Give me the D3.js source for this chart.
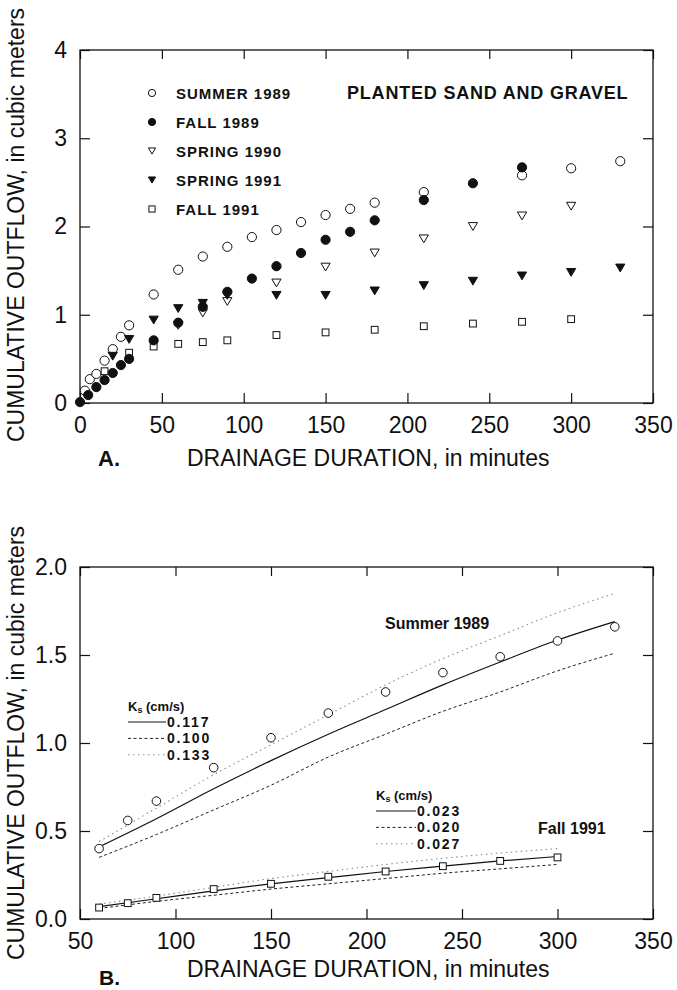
<!DOCTYPE html>
<html>
<head>
<meta charset="utf-8">
<script src="https://cdn.jsdelivr.net/npm/d3@7"></script>
<style>
  body { margin: 0; background: #fff; }
  text { font-family: "Liberation Sans", Arial, Helvetica, sans-serif; fill: #111; }
</style>
</head>
<body>
<div id="chart"></div>
<script>
// ---- panel A data (minutes, cubic meters) ----
const summer1989X = [3, 6, 10, 15, 20, 25, 30, 45, 60, 75, 90, 105, 120, 135, 150, 165, 180, 210, 270, 300, 330];
const summer1989Y = [0.14, 0.27, 0.33, 0.48, 0.61, 0.75, 0.88, 1.23, 1.51, 1.66, 1.77, 1.88, 1.96, 2.05, 2.13, 2.20, 2.27, 2.39, 2.58, 2.66, 2.74];
const fall1989X = [0, 5, 10, 15, 20, 25, 30, 45, 60, 75, 90, 105, 120, 135, 150, 165, 180, 210, 240, 270];
const fall1989Y = [0.01, 0.09, 0.18, 0.26, 0.34, 0.43, 0.50, 0.71, 0.91, 1.09, 1.26, 1.41, 1.55, 1.70, 1.85, 1.94, 2.07, 2.30, 2.49, 2.67];
const spring1990X = [60, 75, 90, 120, 150, 180, 210, 240, 270, 300];
const spring1990Y = [0.88, 1.02, 1.15, 1.36, 1.54, 1.70, 1.86, 2.00, 2.12, 2.23];
const spring1991X = [20, 30, 45, 60, 75, 90, 120, 150, 180, 210, 240, 270, 300, 330];
const spring1991Y = [0.53, 0.72, 0.94, 1.07, 1.13, 1.22, 1.22, 1.22, 1.27, 1.33, 1.38, 1.44, 1.48, 1.53];
const fall1991X = [15, 30, 45, 60, 75, 90, 120, 150, 180, 210, 240, 270, 300];
const fall1991Y = [0.36, 0.57, 0.64, 0.67, 0.69, 0.71, 0.77, 0.80, 0.83, 0.87, 0.90, 0.92, 0.95];

const seriesNamesA = ["SUMMER 1989", "FALL 1989", "SPRING 1990", "SPRING 1991", "FALL 1991"];
const seriesShapesA = ["circleOpen", "circleFilled", "triOpen", "triFilled", "squareOpen"];

// ---- panel B data ----
const obsSummerX = [60, 75, 90, 120, 150, 180, 210, 240, 270, 300, 330];
const obsSummerY = [0.40, 0.56, 0.67, 0.86, 1.03, 1.17, 1.29, 1.40, 1.49, 1.58, 1.66];
const obsFallX = [60, 75, 90, 120, 150, 180, 210, 240, 270, 300];
const obsFallY = [0.065, 0.09, 0.12, 0.17, 0.20, 0.24, 0.27, 0.30, 0.33, 0.35];

const modelSummerX = [60, 90, 120, 150, 180, 210, 240, 270, 300, 330];
const summerK117 = [0.41, 0.57, 0.74, 0.90, 1.05, 1.19, 1.33, 1.46, 1.585, 1.69];
const summerK100 = [0.35, 0.48, 0.62, 0.76, 0.92, 1.05, 1.18, 1.29, 1.41, 1.51];
const summerK133 = [0.44, 0.63, 0.82, 0.99, 1.16, 1.33, 1.48, 1.61, 1.74, 1.85];
const modelFallX = [60, 90, 120, 150, 180, 210, 240, 270, 300];
const fallK023 = [0.07, 0.115, 0.16, 0.20, 0.235, 0.27, 0.30, 0.33, 0.355];
const fallK020 = [0.06, 0.10, 0.135, 0.17, 0.20, 0.23, 0.26, 0.285, 0.31];
const fallK027 = [0.085, 0.13, 0.18, 0.23, 0.27, 0.31, 0.345, 0.375, 0.40];

const ksSummerLabels = ["0.117", "0.100", "0.133"];
const ksFallLabels = ["0.023", "0.020", "0.027"];
const lineStyles = ["solid", "dashed", "dotted"];

const ticksAX = [0, 50, 100, 150, 200, 250, 300, 350];
const ticksAY = [0, 1, 2, 3, 4];
const ticksBX = [50, 100, 150, 200, 250, 300, 350];
const ticksBY = [0, 0.5, 1.0, 1.5, 2.0];

const width = 677, height = 990;

const svg = d3.select("#chart")
  .append("svg")
    .attr("width", width)
    .attr("height", height)
    .style("background-color", "#fff");

// scales
const xA = d3.scaleLinear().domain([0, 350]).range([80, 653]);
const yA = d3.scaleLinear().domain([0, 4]).range([403, 50]);
const xB = d3.scaleLinear().domain([50, 350]).range([80, 653]);
const yB = d3.scaleLinear().domain([0, 2]).range([919, 567]);

// draws a framed panel with inward ticks on all four sides
function drawFrame(x, y, xt, yt, yfmt) {
  const [x0, x1] = x.range();
  const [y0, y1] = y.range();
  const g = svg.append("g");

  g.append("g")
    .attr("transform", `translate(0,${y0})`)
    .call(d3.axisBottom(x).tickValues(xt).tickSizeInner(-10).tickSizeOuter(0).tickPadding(14))
    .selectAll("text")
      .style("font-size", "23px");

  g.append("g")
    .attr("transform", `translate(0,${y1})`)
    .call(d3.axisTop(x).tickValues(xt).tickSizeInner(-9).tickSizeOuter(0).tickFormat(""));

  g.append("g")
    .attr("transform", `translate(${x0},0)`)
    .call(d3.axisLeft(y).tickValues(yt).tickSizeInner(-10).tickSizeOuter(0).tickPadding(13).tickFormat(yfmt))
    .selectAll("text")
      .style("font-size", "23px");

  g.append("g")
    .attr("transform", `translate(${x1},0)`)
    .call(d3.axisRight(y).tickValues(yt).tickSizeInner(-10).tickSizeOuter(0).tickFormat(""));

  g.selectAll(".domain").remove();
  g.selectAll(".tick line").attr("stroke", "#111").attr("stroke-width", 1.2);
  g.selectAll(".tick text").attr("fill", "#111");

  g.append("rect")
    .attr("x", x0).attr("y", y1)
    .attr("width", x1 - x0).attr("height", y0 - y1)
    .style("fill", "none")
    .style("stroke", "#111")
    .style("stroke-width", 1.3);
}

// marker shapes
function drawMarker(sel, shape, s) {
  if (shape === "circleOpen" || shape === "circleFilled") {
    sel.append("circle")
      .attr("r", s)
      .style("fill", shape === "circleFilled" ? "#111" : "#fff")
      .style("stroke", "#111")
      .style("stroke-width", 1);
  } else if (shape === "triOpen" || shape === "triFilled") {
    const h = s * 1.7;
    sel.append("path")
      .attr("d", `M${-s},${-h / 2}L${s},${-h / 2}L0,${h / 2}Z`)
      .style("fill", shape === "triFilled" ? "#111" : "#fff")
      .style("stroke", "#111")
      .style("stroke-width", 1);
  } else {
    sel.append("rect")
      .attr("x", -s * 0.85).attr("y", -s * 0.85)
      .attr("width", s * 1.7).attr("height", s * 1.7)
      .style("fill", "#fff")
      .style("stroke", "#111")
      .style("stroke-width", 1);
  }
}

// ---------- Panel A ----------
drawFrame(xA, yA, ticksAX, ticksAY, d3.format("d"));

const seriesA = [
  {xs: summer1989X, ys: summer1989Y},
  {xs: fall1989X, ys: fall1989Y},
  {xs: spring1990X, ys: spring1990Y},
  {xs: spring1991X, ys: spring1991Y},
  {xs: fall1991X, ys: fall1991Y}
];

// draw order: open circles first, filled on top like the print
[0, 4, 2, 3, 1].forEach(i => {
  const s = seriesA[i];
  const pts = s.xs.map((x, j) => ({x: x, y: s.ys[j]}));
  svg.append("g").selectAll("g")
    .data(pts)
    .join("g")
      .attr("transform", d => `translate(${xA(d.x)},${yA(d.y)})`)
      .each(function() { drawMarker(d3.select(this), seriesShapesA[i], i === 4 ? 4 : 4.6); });
});

const legendA = svg.append("g").attr("transform", "translate(152,93)");
seriesNamesA.forEach((name, i) => {
  const row = legendA.append("g").attr("transform", `translate(0,${i * 29})`);
  drawMarker(row, seriesShapesA[i], 3.6);
  row.append("text")
    .attr("x", 24)
    .attr("y", 0)
    .attr("dominant-baseline", "central")
    .style("font-size", "15px")
    .style("font-weight", "bold")
    .style("letter-spacing", "1px")
    .text(name);
});

svg.append("text")
  .attr("x", 347)
  .attr("y", 99)
  .style("font-size", "18px")
  .style("font-weight", "bold")
  .style("letter-spacing", "0.8px")
  .text("PLANTED SAND AND GRAVEL");

svg.append("text")
  .attr("transform", "translate(24,225) rotate(-90)")
  .attr("text-anchor", "middle")
  .style("font-size", "23px")
  .text("CUMULATIVE OUTFLOW, in cubic meters");

svg.append("text")
  .attr("x", 98).attr("y", 466)
  .style("font-size", "22px")
  .style("font-weight", "bold")
  .text("A.");

svg.append("text")
  .attr("x", 187).attr("y", 466)
  .style("font-size", "23px")
  .text("DRAINAGE DURATION, in minutes");

// ---------- Panel B ----------
drawFrame(xB, yB, ticksBX, ticksBY, d3.format(".1f"));

const dashFor = {solid: null, dashed: "3,2.5", dotted: "1.5,3.5"};
const colorFor = {solid: "#111", dashed: "#222", dotted: "#8a8a8a"};
const widthFor = {solid: 1.2, dashed: 1, dotted: 1.1};

const lineB = d3.line()
  .x(d => xB(d.x))
  .y(d => yB(d.y))
  .curve(d3.curveMonotoneX);

const modelsB = [
  {xs: modelSummerX, ys: summerK117, style: "solid"},
  {xs: modelSummerX, ys: summerK100, style: "dashed"},
  {xs: modelSummerX, ys: summerK133, style: "dotted"},
  {xs: modelFallX, ys: fallK023, style: "solid"},
  {xs: modelFallX, ys: fallK020, style: "dashed"},
  {xs: modelFallX, ys: fallK027, style: "dotted"}
];

modelsB.forEach(m => {
  svg.append("path")
    .datum(m.xs.map((x, j) => ({x: x, y: m.ys[j]})))
    .attr("d", lineB)
    .style("fill", "none")
    .style("stroke", colorFor[m.style])
    .style("stroke-width", widthFor[m.style])
    .style("stroke-dasharray", dashFor[m.style]);
});

svg.append("g").selectAll("g")
  .data(obsSummerX.map((x, j) => ({x: x, y: obsSummerY[j]})))
  .join("g")
    .attr("transform", d => `translate(${xB(d.x)},${yB(d.y)})`)
    .each(function() { drawMarker(d3.select(this), "circleOpen", 4.3); });

svg.append("g").selectAll("g")
  .data(obsFallX.map((x, j) => ({x: x, y: obsFallY[j]})))
  .join("g")
    .attr("transform", d => `translate(${xB(d.x)},${yB(d.y)})`)
    .each(function() { drawMarker(d3.select(this), "squareOpen", 4); });

function ksLegend(x, y, lineLen, labels) {
  const g = svg.append("g").attr("transform", `translate(${x},${y})`);
  const head = g.append("text")
    .attr("x", 0).attr("y", 0)
    .attr("dominant-baseline", "central")
    .style("font-size", "13px")
    .style("font-weight", "bold");
  head.append("tspan").text("K");
  head.append("tspan").attr("dy", 4).style("font-size", "9px").text("s");
  head.append("tspan").attr("dy", -4).text(" (cm/s)");

  labels.forEach((lab, i) => {
    const ly = 16 + i * 16.4;
    const st = lineStyles[i];
    g.append("line")
      .attr("x1", 0).attr("x2", lineLen)
      .attr("y1", ly).attr("y2", ly)
      .style("stroke", colorFor[st])
      .style("stroke-width", widthFor[st])
      .style("stroke-dasharray", dashFor[st]);
    g.append("text")
      .attr("x", lineLen + 1).attr("y", ly)
      .attr("dominant-baseline", "central")
      .style("font-size", "14px")
      .style("font-weight", "bold")
      .style("letter-spacing", "1.8px")
      .text(lab);
  });
}

ksLegend(128, 706, 38, ksSummerLabels);
ksLegend(376, 795, 40, ksFallLabels);

svg.append("text")
  .attr("x", 385).attr("y", 629)
  .style("font-size", "16px")
  .style("font-weight", "bold")
  .text("Summer 1989");

svg.append("text")
  .attr("x", 538).attr("y", 834)
  .style("font-size", "16px")
  .style("font-weight", "bold")
  .text("Fall 1991");

svg.append("text")
  .attr("transform", "translate(24,743) rotate(-90)")
  .attr("text-anchor", "middle")
  .style("font-size", "23px")
  .text("CUMULATIVE OUTFLOW, in cubic meters");

svg.append("text")
  .attr("x", 99).attr("y", 985)
  .style("font-size", "21px")
  .style("font-weight", "bold")
  .text("B.");

svg.append("text")
  .attr("x", 187).attr("y", 977)
  .style("font-size", "23px")
  .text("DRAINAGE DURATION, in minutes");
</script>
</body>
</html>
